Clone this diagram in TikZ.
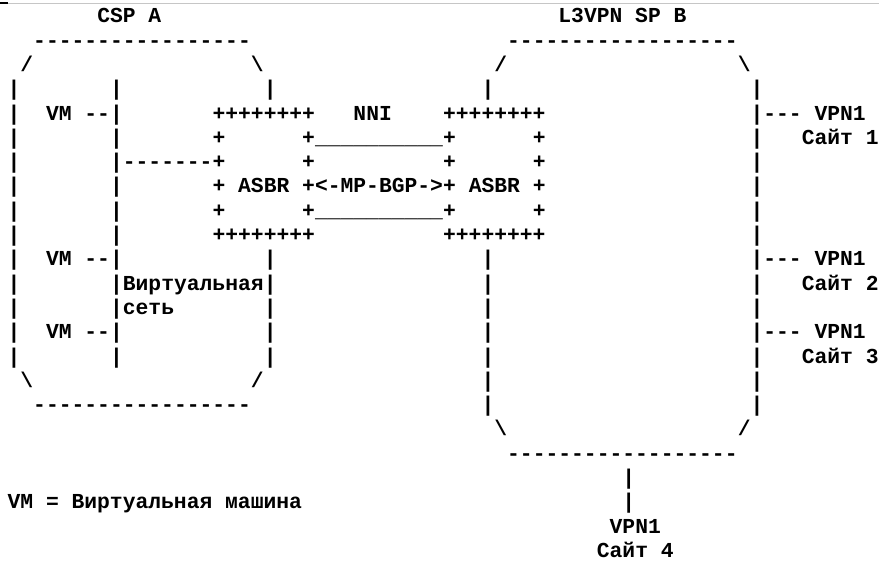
\documentclass[tikz,border=0pt]{standalone}
\usepackage{fontspec}
\setmonofont{Liberation Mono}
\usepackage{tikz}

\tikzset{ascii/.style={font=\ttfamily\bfseries\fontsize{16pt}{18pt}\selectfont,
  anchor=base west, inner sep=0pt, outer sep=0pt}}

\begin{document}
\begin{tikzpicture}[x=9.6075pt, y=-18.225pt]
  \useasboundingbox (-5.7pt,17.1pt) rectangle (653.55pt,-404.4pt);
  % top rule of the page
  \draw[gray!45, line width=0.75pt] (-5.7pt,14.8pt) -- (653.55pt,14.8pt);
  \draw[line width=1.5pt] (-5.7pt,14.6pt) -- (0pt,14.6pt);
  % CSP A cloud
  \node[ascii] (cspA) at (7,0) {CSP A};
  \node[ascii] (cspTop) at (2,1) {-----------------};
  \node[ascii] (cspTL) at (1,2) {/};
  \node[ascii] (cspTR) at (19,2) {\textbackslash};
  \foreach \r in {3,...,14} \node[ascii] (cspL\r) at (0,\r) {|};
  \foreach \r in {3,10,11,...,14} \node[ascii] (cspR\r) at (20,\r) {|};
  \node[ascii] (cspBL) at (1,15) {\textbackslash};
  \node[ascii] (cspBR) at (19,15) {/};
  \node[ascii] (cspBot) at (2,16) {-----------------};
  % virtual network and VMs
  \foreach \r in {3,...,14} \node[ascii] (vnet\r) at (8,\r) {|};
  \foreach \r in {4,10,13} \node[ascii] (vm\r) at (3,\r) {VM --};
  \node[ascii] (vnetName) at (9,11) {Виртуальная};
  \node[ascii] (vnetNameB) at (9,12) {сеть};
  \node[ascii] (vnetLink) at (9,6) {-------};
  % the two ASBR boxes and the NNI between them
  \foreach \r in {4,9} {
    \node[ascii] (asbrA\r) at (16,\r) {++++++++};
    \node[ascii] (asbrB\r) at (34,\r) {++++++++};
  }
  \foreach \r in {5,...,8}
    \foreach \c in {16,23,34,41}
      \node[ascii] (plus\c-\r) at (\c,\r) {+};
  \node[ascii] (asbrA) at (18,7) {ASBR};
  \node[ascii] (asbrB) at (36,7) {ASBR};
  \node[ascii] (nni) at (27,4) {NNI};
  \node[ascii] (nniTop) at (24,5) {\_\_\_\_\_\_\_\_\_\_};
  \node[ascii] (bgp) at (24,7) {<-MP-BGP->};
  \node[ascii] (nniBot) at (24,8) {\_\_\_\_\_\_\_\_\_\_};
  % L3VPN SP B cloud
  \node[ascii] (spB) at (43,0) {L3VPN SP B};
  \node[ascii] (spTop) at (39,1) {------------------};
  \node[ascii] (spTL) at (38,2) {/};
  \node[ascii] (spTR) at (57,2) {\textbackslash};
  \foreach \r in {3,10,11,...,16} \node[ascii] (spL\r) at (37,\r) {|};
  \foreach \r in {3,...,16} \node[ascii] (spR\r) at (58,\r) {|};
  \node[ascii] (spBL) at (38,17) {\textbackslash};
  \node[ascii] (spBR) at (57,17) {/};
  \node[ascii] (spBot) at (39,18) {------------------};
  % VPN1 sites
  \foreach \r/\n in {4/1,10/2,13/3} {
    \node[ascii] (link\n) at (59,\r) {--- VPN1};
    \node[ascii] (site\n) at (62,\r+1) {Сайт \n};
  }
  \foreach \r in {19,20} \node[ascii] (linkD\r) at (48,\r) {|};
  \node[ascii] (vpnD) at (47,21) {VPN1};
  \node[ascii] (site4) at (46,22) {Сайт 4};
  % legend
  \node[ascii] (legend) at (0,20) {VM = Виртуальная машина};
\end{tikzpicture}
\end{document}
